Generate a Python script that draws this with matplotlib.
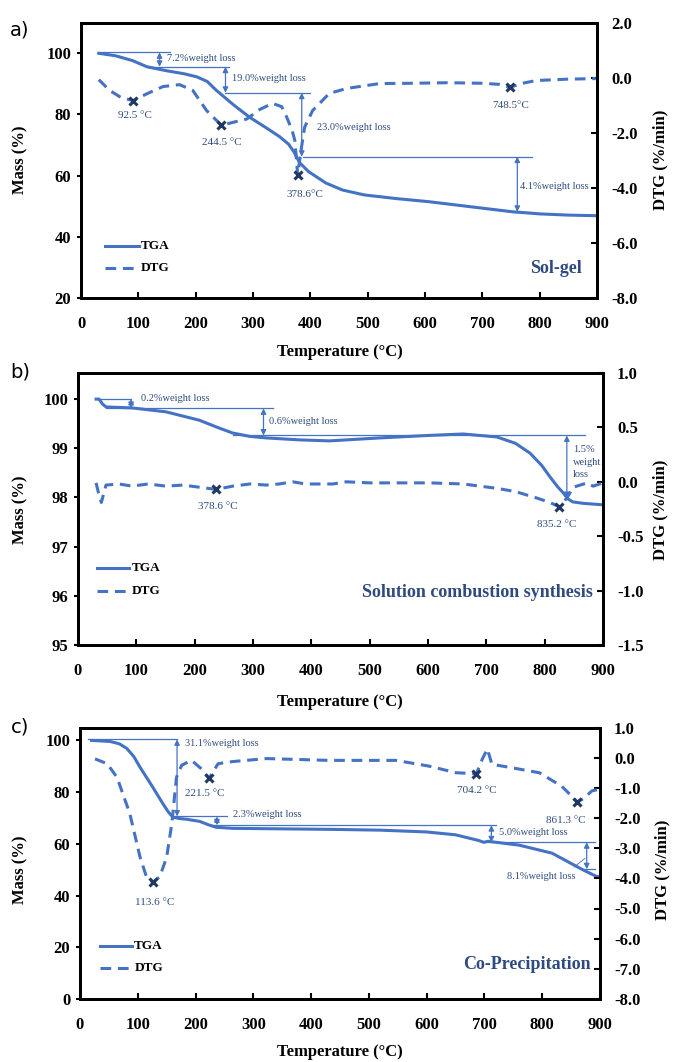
import matplotlib.pyplot as plt

plt.rcParams['font.family'] = ['Liberation Serif', 'DejaVu Serif']

# ---- data ----
# a) Sol-gel
tga_a_t = [31, 60, 90, 115, 149, 180, 202, 220, 236, 265, 294, 320, 346, 362, 372, 381, 397, 427, 456, 494, 550, 606, 681, 752, 800, 850, 900]
tga_a_m = [100, 99.2, 97.6, 95.6, 94.3, 93.3, 92.3, 90.8, 87.9, 83.3, 79.1, 76.0, 72.8, 70.3, 67.6, 64.3, 61.3, 57.6, 55.3, 53.7, 52.5, 51.5, 49.8, 48.2, 47.5, 47.1, 46.9]
dtg_a_t = [31, 50, 70, 91, 115, 143, 172, 195, 219, 245, 265, 289, 312, 334, 350, 359, 368, 373, 378, 384, 390, 404, 433, 463, 521, 578, 640, 700, 730, 748, 770, 794, 850, 898]
dtg_a_d = [-0.07, -0.46, -0.72, -0.83, -0.58, -0.32, -0.25, -0.46, -1.19, -1.73, -1.62, -1.5, -1.15, -0.93, -1.05, -1.44, -1.9, -2.28, -3.54, -2.6, -1.8, -1.19, -0.57, -0.39, -0.21, -0.2, -0.18, -0.2, -0.24, -0.35, -0.2, -0.1, -0.05, -0.03]
peak_a_t = [91, 245, 378, 748]
peak_a_d = [-0.83, -1.73, -3.54, -0.35]
peak_a_lbl = ['92.5 \u00b0C', '244.5 \u00b0C', '378.6\u00b0C', '748.5\u00b0C']

# b) Solution combustion synthesis
tga_b_t = [31, 36, 42, 48, 93, 151, 208, 240, 265, 295, 323, 380, 431, 517, 600, 660, 718, 750, 775, 795, 809, 822, 832, 840, 848, 866, 900]
tga_b_m = [100, 100, 99.9, 99.84, 99.82, 99.74, 99.57, 99.42, 99.31, 99.24, 99.21, 99.17, 99.15, 99.21, 99.26, 99.29, 99.23, 99.1, 98.9, 98.65, 98.42, 98.22, 98.09, 97.97, 97.91, 97.88, 97.85]
dtg_b_t = [31, 35, 40, 48, 70, 93, 120, 151, 180, 208, 237, 265, 295, 323, 345, 368, 390, 437, 460, 500, 546, 603, 660, 718, 750, 787, 809, 825, 838, 849, 873, 883, 900]
dtg_b_d = [-0.01, -0.1, -0.19, -0.03, -0.02, -0.04, -0.02, -0.04, -0.03, -0.05, -0.07, -0.04, -0.02, -0.03, -0.02, 0.0, -0.02, -0.02, 0.0, -0.01, -0.01, -0.01, -0.02, -0.06, -0.09, -0.15, -0.19, -0.23, -0.15, -0.05, -0.01, -0.04, -0.01]
peak_b_t = [237, 825]
peak_b_d = [-0.07, -0.23]
peak_b_lbl = ['378.6 \u00b0C', '835.2 \u00b0C']

# c) Co-Precipitation
tga_c_t = [20, 52, 68, 81, 93, 104, 126, 143, 153, 161, 172, 185, 207, 222, 236, 264, 350, 437, 520, 600, 650, 690, 699, 706, 760, 817, 846, 870, 893, 900]
tga_c_m = [100, 99.6, 98.7, 96.9, 93.8, 89.6, 81.9, 75.7, 72.3, 70.3, 69.8, 69.5, 68.7, 67.4, 66.4, 66.0, 65.8, 65.6, 65.3, 64.6, 63.5, 61.3, 60.6, 61.0, 59.5, 56.4, 52.9, 50.0, 47.5, 47.2]
dtg_c_t = [26, 47, 64, 86, 104, 115, 126, 138, 150, 159, 167, 176, 193, 212, 223, 239, 264, 323, 431, 547, 604, 651, 686, 696, 705, 713, 746, 795, 834, 861, 872, 886, 898]
dtg_c_d = [-0.04, -0.2, -0.65, -1.84, -3.3, -3.95, -4.13, -3.95, -3.3, -2.17, -0.65, -0.25, -0.09, -0.4, -0.69, -0.2, -0.13, -0.03, -0.09, -0.09, -0.28, -0.5, -0.53, -0.06, 0.29, -0.22, -0.33, -0.5, -0.95, -1.47, -1.35, -1.1, -1.05]
peak_c_t = [126, 223, 686, 861]
peak_c_d = [-4.13, -0.69, -0.53, -1.47]
peak_c_lbl = ['113.6 \u00b0C', '221.5 \u00b0C', '704.2 \u00b0C', '861.3 \u00b0C']

x_ticks = list(range(0, 1000, 100))

BLUE = '#4472C4'
NAVY = '#1F3864'
TXT = '#2E4A80'
W, H = 675, 1062

fig = plt.figure(figsize=(W / 100, H / 100), dpi=100)


def ftxt(xp, yp, s, **kw):
    fig.text(xp / W, 1 - yp / H, s, **kw)


def hline(ax, y, x0, x1):
    ax.plot([x0, x1], [y, y], color=BLUE, lw=0.9)


def darrow(ax, x, y0, y1):
    ax.annotate('', xy=(x, y1), xytext=(x, y0),
                arrowprops=dict(arrowstyle='<|-|>', color=BLUE, lw=0.9,
                                mutation_scale=8, shrinkA=0, shrinkB=0))


def note(ax, x, y, s, **kw):
    ax.text(x, y, s, fontsize=7.5, color=TXT, va='center', **kw)


def panel(rect, tt, tm, dt, dd, pt, pd, plbl, lpos, ylim, yticks, y2lim, y2ticks, y2fmt):
    ax = fig.add_axes(rect)
    ax2 = ax.twinx()
    ax.plot(tt, tm, color=BLUE, lw=2.2)
    ax2.plot(dt, dd, color=BLUE, lw=2.2, dashes=(3.5, 2.2))
    ax2.plot(pt, pd, 'x', color=NAVY, ms=6, mew=2.2)
    for (x, y), s in zip(lpos, plbl):
        ax2.text(x, y, s, fontsize=8, color=TXT, ha='center', va='center')
    ax.set_xlim(0, 900)
    ax.set_ylim(*ylim)
    ax2.set_ylim(*y2lim)
    ax.set_xticks(x_ticks)
    ax.set_yticks(yticks)
    ax2.set_yticks(y2ticks)
    ax2.set_yticklabels([y2fmt % v for v in y2ticks])
    for a in (ax, ax2):
        for sp in a.spines.values():
            sp.set_linewidth(2)
        for lb in a.get_xticklabels() + a.get_yticklabels():
            lb.set_fontweight('bold')
            lb.set_fontsize(12)
    ax.tick_params(axis='x', direction='in', length=4, width=1.5, pad=13)
    ax.tick_params(axis='y', direction='out', length=3, width=1.5, pad=4)
    ax2.tick_params(axis='y', direction='in', length=4, width=1.5, pad=10)
    return ax, ax2


def legend(ax, x0, x1, y1, y2):
    ax.plot([x0, x1], [y1, y1], color=BLUE, lw=2.2)
    ax.plot([x0, x1], [y2, y2], color=BLUE, lw=2.2, dashes=(3.5, 2.2))
    ax.text(x1 + 4, y1, 'TGA', fontsize=9.5, fontweight='bold', va='center')
    ax.text(x1 + 4, y2, 'DTG', fontsize=9.5, fontweight='bold', va='center')


# ---- a) ----
ax, ax2 = panel([81 / W, 1 - 298 / H, 516 / W, 275.3 / H],
                tga_a_t, tga_a_m, dtg_a_t, dtg_a_d, peak_a_t, peak_a_d, peak_a_lbl,
                [(94, -1.37), (245, -2.35), (390, -4.23), (750, -1.0)],
                (20, 110), list(range(20, 101, 20)), (-8, 2), [-8, -6, -4, -2, 0, 2], '%.1f')
hline(ax, 100.3, 31, 155)
hline(ax, 95.6, 115, 259)
darrow(ax, 137, 100.3, 95.6)
note(ax, 150, 98.4, '7.2%weight loss')
darrow(ax, 252, 95.6, 87.1)
hline(ax, 87.1, 252, 399)
note(ax, 263, 91.6, '19.0%weight loss')
darrow(ax, 385, 87.1, 66.2)
note(ax, 411, 75.9, '23.0%weight loss')
hline(ax, 66.2, 387, 787)
darrow(ax, 761, 66.2, 48.2)
hline(ax, 48.2, 751, 785)
note(ax, 766, 56.6, '4.1%weight loss')
legend(ax, 42, 101, 37, 29.8)
ax.text(874, 29.8, 'Sol-gel', fontsize=13, fontweight='bold', color=TXT, ha='right', va='center')
ftxt(20, 30, 'a)', fontsize=14, family='DejaVu Sans', ha='center', va='center')
ftxt(20, 160, 'Mass (%)', rotation=90, fontsize=12, fontweight='bold', ha='center', va='center')
ftxt(660, 160, 'DTG (%/min)', rotation=90, fontsize=12, fontweight='bold', ha='center', va='center')
ftxt(340, 352, 'Temperature (\u00b0C)', fontsize=12, fontweight='bold', ha='center', va='center')

# ---- b) ----
ax, ax2 = panel([78 / W, 1 - 645 / H, 525 / W, 272 / H],
                tga_b_t, tga_b_m, dtg_b_t, dtg_b_d, peak_b_t, peak_b_d, peak_b_lbl,
                [(239, -0.23), (821, -0.39)],
                (95, 100.53), [95, 96, 97, 98, 99, 100], (-1.5, 1.0), [-1.5, -1.0, -0.5, 0.0, 0.5, 1.0], '%.1f')
hline(ax, 100, 31, 91)
darrow(ax, 91, 100, 99.82)
note(ax, 108, 100.02, '0.2%weight loss')
hline(ax, 99.81, 48, 334)
darrow(ax, 318, 99.81, 99.26)
note(ax, 328, 99.55, '0.6%weight loss')
hline(ax, 99.26, 265, 869)
darrow(ax, 838, 99.26, 97.99)
note(ax, 849, 98.72, '1.5%\nweight\nloss', linespacing=1.5)
legend(ax, 33, 88, 96.56, 96.1)
ax.text(883, 96.06, 'Solution combustion synthesis', fontsize=13, fontweight='bold', color=TXT, ha='right', va='center')
ftxt(20, 372, 'b)', fontsize=14, family='DejaVu Sans', ha='center', va='center')
ftxt(20, 510, 'Mass (%)', rotation=90, fontsize=12, fontweight='bold', ha='center', va='center')
ftxt(660, 510, 'DTG (%/min)', rotation=90, fontsize=12, fontweight='bold', ha='center', va='center')
ftxt(340, 702, 'Temperature (\u00b0C)', fontsize=12, fontweight='bold', ha='center', va='center')

# ---- c) ----
ax, ax2 = panel([80 / W, 1 - 999 / H, 520 / W, 271.5 / H],
                tga_c_t, tga_c_m, dtg_c_t, dtg_c_d, peak_c_t, peak_c_d, peak_c_lbl,
                [(130, -4.79), (216, -1.18), (686, -1.08), (841, -2.07)],
                (0, 105), list(range(0, 101, 20)), (-8, 1), list(range(-8, 2)), '%.1f')
hline(ax, 100.4, 14, 168)
darrow(ax, 168, 100.4, 70.6)
note(ax, 181, 98.8, '31.1%weight loss')
hline(ax, 70.6, 161, 254)
darrow(ax, 237, 70.6, 67.2)
note(ax, 264, 71.4, '2.3%weight loss')
hline(ax, 67.2, 225, 720)
darrow(ax, 712, 67.2, 60.6)
note(ax, 725, 64.5, '5.0%weight loss')
hline(ax, 60.6, 696, 892)
darrow(ax, 877, 60.6, 50.2)
hline(ax, 50.2, 869, 892)
ax.plot([855, 874], [51, 54.4], color=BLUE, lw=0.6)
note(ax, 857, 47.5, '8.1%weight loss', ha='right')
legend(ax, 34, 90, 20.5, 12)
ax.text(884, 13.5, 'Co-Precipitation', fontsize=13, fontweight='bold', color=TXT, ha='right', va='center')
ftxt(20, 727, 'c)', fontsize=14, family='DejaVu Sans', ha='center', va='center')
ftxt(20, 870, 'Mass (%)', rotation=90, fontsize=12, fontweight='bold', ha='center', va='center')
ftxt(662, 870, 'DTG (%/min)', rotation=90, fontsize=12, fontweight='bold', ha='center', va='center')
ftxt(340, 1052, 'Temperature (\u00b0C)', fontsize=12, fontweight='bold', ha='center', va='center')

fig.savefig('out.png', dpi=100)
